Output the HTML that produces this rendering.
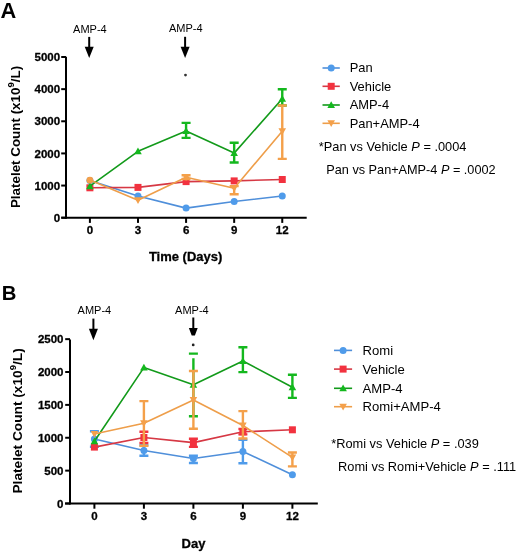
<!DOCTYPE html><html><head><meta charset="utf-8"><style>html,body{margin:0;padding:0;background:#fff;}svg{display:block;will-change:transform;filter:blur(0.3px)}text[font-weight=bold]{stroke:#000;stroke-width:0.3px}</style></head><body>
<svg width="520" height="553" viewBox="0 0 520 553" font-family='"Liberation Sans", sans-serif' fill="#000">
<text x="0.6" y="17.9" font-size="21.8" font-weight="bold" style="stroke:none">A</text>
<text x="89.9" y="32.6" font-size="11" text-anchor="middle">AMP-4</text><line x1="89.2" y1="36.9" x2="89.2" y2="47.7" stroke="#000" stroke-width="2"/><path d="M84.7 46.7H93.7L89.2 58Z" fill="#000"/>
<text x="185.7" y="32.0" font-size="11" text-anchor="middle">AMP-4</text><line x1="185.1" y1="36.8" x2="185.1" y2="47.8" stroke="#000" stroke-width="2"/><path d="M180.6 46.8H189.6L185.1 58Z" fill="#000"/>
<circle cx="185.5" cy="75.1" r="1.4" fill="#333"/>
<line x1="66" y1="56.8" x2="66" y2="218.7" stroke="#000" stroke-width="2"/>
<line x1="61.3" y1="217.7" x2="306.7" y2="217.7" stroke="#000" stroke-width="2"/>
<line x1="61.2" y1="217.7" x2="66" y2="217.7" stroke="#000" stroke-width="2"/>
<text x="60.1" y="221.8" font-size="11.5" font-weight="bold" text-anchor="end">0</text>
<line x1="61.2" y1="185.56" x2="66" y2="185.56" stroke="#000" stroke-width="2"/>
<text x="60.1" y="189.66" font-size="11.5" font-weight="bold" text-anchor="end">1000</text>
<line x1="61.2" y1="153.42" x2="66" y2="153.42" stroke="#000" stroke-width="2"/>
<text x="60.1" y="157.52" font-size="11.5" font-weight="bold" text-anchor="end">2000</text>
<line x1="61.2" y1="121.28" x2="66" y2="121.28" stroke="#000" stroke-width="2"/>
<text x="60.1" y="125.38" font-size="11.5" font-weight="bold" text-anchor="end">3000</text>
<line x1="61.2" y1="89.14" x2="66" y2="89.14" stroke="#000" stroke-width="2"/>
<text x="60.1" y="93.24" font-size="11.5" font-weight="bold" text-anchor="end">4000</text>
<line x1="61.2" y1="57.0" x2="66" y2="57.0" stroke="#000" stroke-width="2"/>
<text x="60.1" y="61.1" font-size="11.5" font-weight="bold" text-anchor="end">5000</text>
<line x1="89.9" y1="217.7" x2="89.9" y2="222.9" stroke="#000" stroke-width="2"/>
<text x="89.9" y="234.0" font-size="11.5" font-weight="bold" text-anchor="middle">0</text>
<line x1="137.99" y1="217.7" x2="137.99" y2="222.9" stroke="#000" stroke-width="2"/>
<text x="137.99" y="234.0" font-size="11.5" font-weight="bold" text-anchor="middle">3</text>
<line x1="186.08" y1="217.7" x2="186.08" y2="222.9" stroke="#000" stroke-width="2"/>
<text x="186.08" y="234.0" font-size="11.5" font-weight="bold" text-anchor="middle">6</text>
<line x1="234.17" y1="217.7" x2="234.17" y2="222.9" stroke="#000" stroke-width="2"/>
<text x="234.17" y="234.0" font-size="11.5" font-weight="bold" text-anchor="middle">9</text>
<line x1="282.26" y1="217.7" x2="282.26" y2="222.9" stroke="#000" stroke-width="2"/>
<text x="282.26" y="234.0" font-size="11.5" font-weight="bold" text-anchor="middle">12</text>
<text transform="translate(19.9,137) rotate(-90)" x="0" y="0" font-size="13.4" font-weight="bold" text-anchor="middle" style="stroke:none">Platelet Count (x10<tspan font-size="9.5" dy="-6.3">9</tspan><tspan dy="6.3">/L)</tspan></text>
<text x="185.6" y="261.3" font-size="13" font-weight="bold" text-anchor="middle" transform="translate(0,261.3) scale(1,1.05) translate(0,-261.3)">Time (Days)</text>
<polyline points="89.9,180.6 137.99,196 186.08,208.1 234.17,201.5 282.26,196" fill="none" stroke="#4F8FDA" stroke-width="1.6" stroke-linejoin="round"/>
<circle cx="89.9" cy="180.6" r="3.5" fill="#4F9BEA"/>
<circle cx="137.99" cy="196" r="3.5" fill="#4F9BEA"/>
<circle cx="186.08" cy="208.1" r="3.5" fill="#4F9BEA"/>
<circle cx="234.17" cy="201.5" r="3.5" fill="#4F9BEA"/>
<circle cx="282.26" cy="196" r="3.5" fill="#4F9BEA"/>
<polyline points="89.9,187.8 137.99,187.4 186.08,181.6 234.17,180.9 282.26,179.5" fill="none" stroke="#D63844" stroke-width="1.6" stroke-linejoin="round"/>
<rect x="86.4" y="184.3" width="7" height="7" fill="#F2323F"/>
<rect x="134.49" y="183.9" width="7" height="7" fill="#F2323F"/>
<rect x="182.58" y="178.1" width="7" height="7" fill="#F2323F"/>
<rect x="230.67" y="177.4" width="7" height="7" fill="#F2323F"/>
<rect x="278.76" y="176.0" width="7" height="7" fill="#F2323F"/>
<polyline points="89.9,186.2 137.99,151.3 186.08,130.9 234.17,153.1 282.26,98.7" fill="none" stroke="#129A1A" stroke-width="1.6" stroke-linejoin="round"/>
<path d="M186.08 122.9V137.9M181.58 122.9H190.58M181.58 137.9H190.58" stroke="#14B81E" stroke-width="2.4" fill="none"/>
<path d="M234.17 142.7V162.5M229.67 142.7H238.67M229.67 162.5H238.67" stroke="#14B81E" stroke-width="2.4" fill="none"/>
<path d="M282.26 89.3V105.5M277.76 89.3H286.76M277.76 105.5H286.76" stroke="#14B81E" stroke-width="2.4" fill="none"/>
<path d="M89.9 182.4L93.7 189.2L86.1 189.2Z" fill="#14B81E"/>
<path d="M137.99 147.5L141.79 154.3L134.19 154.3Z" fill="#14B81E"/>
<path d="M186.08 127.1L189.88 133.9L182.28 133.9Z" fill="#14B81E"/>
<path d="M234.17 149.3L237.97 156.1L230.37 156.1Z" fill="#14B81E"/>
<path d="M282.26 94.9L286.06 101.7L278.46 101.7Z" fill="#14B81E"/>
<polyline points="89.9,180 137.99,200.3 186.08,177.2 234.17,188.2 282.26,131.2" fill="none" stroke="#EE9E4A" stroke-width="1.6" stroke-linejoin="round"/>
<path d="M186.08 175.3V179M181.58 175.3H190.58M181.58 179H190.58" stroke="#F4A04A" stroke-width="2.4" fill="none"/>
<path d="M234.17 186.1V194.2M229.67 186.1H238.67M229.67 194.2H238.67" stroke="#F4A04A" stroke-width="2.4" fill="none"/>
<path d="M282.26 105.5V158.9M277.76 105.5H286.76M277.76 158.9H286.76" stroke="#F4A04A" stroke-width="2.4" fill="none"/>
<path d="M137.99 204.1L141.79 197.3L134.19 197.3Z" fill="#F4A04A"/>
<path d="M186.08 181.0L189.88 174.2L182.28 174.2Z" fill="#F4A04A"/>
<path d="M234.17 192.0L237.97 185.2L230.37 185.2Z" fill="#F4A04A"/>
<path d="M282.26 135.0L286.06 128.2L278.46 128.2Z" fill="#F4A04A"/>
<circle cx="89.9" cy="180.2" r="3.4" fill="#F4A04A"/>
<line x1="322.5" y1="68" x2="339.8" y2="68" stroke="#4F8FDA" stroke-width="1.6"/>
<circle cx="331.2" cy="68" r="3.5" fill="#4F9BEA"/>
<text x="349.7" y="72.4" font-size="12.9">Pan</text>
<line x1="322.5" y1="86.3" x2="339.8" y2="86.3" stroke="#D63844" stroke-width="1.6"/>
<rect x="327.7" y="82.8" width="7" height="7" fill="#F2323F"/>
<text x="349.7" y="90.7" font-size="12.9">Vehicle</text>
<line x1="322.5" y1="105" x2="339.8" y2="105" stroke="#129A1A" stroke-width="1.6"/>
<path d="M331.2 101.2L335.0 108L327.4 108Z" fill="#14B81E"/>
<text x="349.7" y="109.4" font-size="12.9">AMP-4</text>
<line x1="322.5" y1="123.3" x2="339.8" y2="123.3" stroke="#EE9E4A" stroke-width="1.6"/>
<path d="M331.2 127.1L335.0 120.3L327.4 120.3Z" fill="#F4A04A"/>
<text x="349.7" y="127.7" font-size="12.9">Pan+AMP-4</text>
<text x="318.8" y="150.6" font-size="12.8">*Pan vs Vehicle <tspan font-style="italic">P</tspan> = .0004</text>
<text x="326.3" y="173.8" font-size="12.7">Pan vs Pan+AMP-4 <tspan font-style="italic">P</tspan> = .0002</text>
<text x="1.8" y="299.9" font-size="20.3" font-weight="bold" style="stroke:none">B</text>
<text x="94.4" y="314" font-size="11" text-anchor="middle">AMP-4</text><line x1="93.4" y1="318.6" x2="93.4" y2="329.7" stroke="#000" stroke-width="2"/><path d="M88.9 328.7H97.9L93.4 340.2Z" fill="#000"/>
<text x="191.9" y="314" font-size="11" text-anchor="middle">AMP-4</text><line x1="193.3" y1="317.5" x2="193.3" y2="329.0" stroke="#000" stroke-width="2"/><path d="M188.9 328.0H197.7L194.9 335.6H191.7Z" fill="#000"/>
<circle cx="193.2" cy="344.9" r="1.4" fill="#222"/>
<line x1="70" y1="339.4" x2="70" y2="504.5" stroke="#000" stroke-width="2"/>
<line x1="65" y1="503.5" x2="317.8" y2="503.5" stroke="#000" stroke-width="2"/>
<line x1="65.2" y1="503.5" x2="70" y2="503.5" stroke="#000" stroke-width="2"/>
<text x="63.5" y="507.6" font-size="11.5" font-weight="bold" text-anchor="end">0</text>
<line x1="65.2" y1="470.63" x2="70" y2="470.63" stroke="#000" stroke-width="2"/>
<text x="63.5" y="474.73" font-size="11.5" font-weight="bold" text-anchor="end">500</text>
<line x1="65.2" y1="437.76" x2="70" y2="437.76" stroke="#000" stroke-width="2"/>
<text x="63.5" y="441.86" font-size="11.5" font-weight="bold" text-anchor="end">1000</text>
<line x1="65.2" y1="404.89" x2="70" y2="404.89" stroke="#000" stroke-width="2"/>
<text x="63.5" y="408.99" font-size="11.5" font-weight="bold" text-anchor="end">1500</text>
<line x1="65.2" y1="372.02" x2="70" y2="372.02" stroke="#000" stroke-width="2"/>
<text x="63.5" y="376.12" font-size="11.5" font-weight="bold" text-anchor="end">2000</text>
<line x1="65.2" y1="339.15" x2="70" y2="339.15" stroke="#000" stroke-width="2"/>
<text x="63.5" y="343.25" font-size="11.5" font-weight="bold" text-anchor="end">2500</text>
<line x1="94.4" y1="503.5" x2="94.4" y2="508.7" stroke="#000" stroke-width="2"/>
<text x="94.4" y="520.2" font-size="11.5" font-weight="bold" text-anchor="middle">0</text>
<line x1="143.9" y1="503.5" x2="143.9" y2="508.7" stroke="#000" stroke-width="2"/>
<text x="143.9" y="520.2" font-size="11.5" font-weight="bold" text-anchor="middle">3</text>
<line x1="193.4" y1="503.5" x2="193.4" y2="508.7" stroke="#000" stroke-width="2"/>
<text x="193.4" y="520.2" font-size="11.5" font-weight="bold" text-anchor="middle">6</text>
<line x1="242.9" y1="503.5" x2="242.9" y2="508.7" stroke="#000" stroke-width="2"/>
<text x="242.9" y="520.2" font-size="11.5" font-weight="bold" text-anchor="middle">9</text>
<line x1="292.4" y1="503.5" x2="292.4" y2="508.7" stroke="#000" stroke-width="2"/>
<text x="292.4" y="520.2" font-size="11.5" font-weight="bold" text-anchor="middle">12</text>
<text transform="translate(22.0,420.9) rotate(-90)" x="0" y="0" font-size="13.7" font-weight="bold" text-anchor="middle" style="stroke:none">Platelet Count (x10<tspan font-size="9.5" dy="-6.3">9</tspan><tspan dy="6.3">/L)</tspan></text>
<text x="193.5" y="548.1" font-size="13" font-weight="bold" text-anchor="middle">Day</text>
<polyline points="94.4,439 143.9,450.5 193.4,458.5 242.9,451.5 292.4,474.8" fill="none" stroke="#4F8FDA" stroke-width="1.6" stroke-linejoin="round"/>
<path d="M94.4 431.3V446.7M89.9 431.3H98.9M89.9 446.7H98.9" stroke="#4F9BEA" stroke-width="2.4" fill="none"/>
<path d="M143.9 445.2V455.8M139.4 445.2H148.4M139.4 455.8H148.4" stroke="#4F9BEA" stroke-width="2.4" fill="none"/>
<path d="M193.4 455.8V463M188.9 455.8H197.9M188.9 463H197.9" stroke="#4F9BEA" stroke-width="2.4" fill="none"/>
<path d="M242.9 439.7V463.2M238.4 439.7H247.4M238.4 463.2H247.4" stroke="#4F9BEA" stroke-width="2.4" fill="none"/>
<circle cx="94.4" cy="439" r="3.5" fill="#4F9BEA"/>
<circle cx="143.9" cy="450.5" r="3.5" fill="#4F9BEA"/>
<circle cx="193.4" cy="458.5" r="3.5" fill="#4F9BEA"/>
<circle cx="242.9" cy="451.5" r="3.5" fill="#4F9BEA"/>
<circle cx="292.4" cy="474.8" r="3.5" fill="#4F9BEA"/>
<polyline points="94.4,447.1 143.9,437.5 193.4,442.6 242.9,431.8 292.4,429.8" fill="none" stroke="#D63844" stroke-width="1.6" stroke-linejoin="round"/>
<path d="M143.9 431.8V442.9M139.4 431.8H148.4M139.4 442.9H148.4" stroke="#F2323F" stroke-width="2.4" fill="none"/>
<path d="M193.4 438.8V446.9M188.9 438.8H197.9M188.9 446.9H197.9" stroke="#F2323F" stroke-width="2.4" fill="none"/>
<path d="M242.9 429V434.4M238.4 429H247.4M238.4 434.4H247.4" stroke="#F2323F" stroke-width="2.4" fill="none"/>
<rect x="90.9" y="443.6" width="7" height="7" fill="#F2323F"/>
<rect x="140.4" y="434.0" width="7" height="7" fill="#F2323F"/>
<rect x="189.9" y="439.1" width="7" height="7" fill="#F2323F"/>
<rect x="239.4" y="428.3" width="7" height="7" fill="#F2323F"/>
<rect x="288.9" y="426.3" width="7" height="7" fill="#F2323F"/>
<polyline points="94.4,441.2 143.9,367.6 193.4,384.8 242.9,361 292.4,387.3" fill="none" stroke="#129A1A" stroke-width="1.6" stroke-linejoin="round"/>
<path d="M193.4 358.2V416.2M188.9 353.6H197.9M188.9 416.2H197.9" stroke="#14B81E" stroke-width="2.4" fill="none"/>
<path d="M242.9 347.3V372.1M238.4 347.3H247.4M238.4 372.1H247.4" stroke="#14B81E" stroke-width="2.4" fill="none"/>
<path d="M292.4 374.8V397.9M287.9 374.8H296.9M287.9 397.9H296.9" stroke="#14B81E" stroke-width="2.4" fill="none"/>
<path d="M94.4 437.4L98.2 444.2L90.6 444.2Z" fill="#14B81E"/>
<path d="M143.9 363.8L147.7 370.6L140.1 370.6Z" fill="#14B81E"/>
<path d="M193.4 381.0L197.2 387.8L189.6 387.8Z" fill="#14B81E"/>
<path d="M242.9 357.2L246.7 364L239.1 364Z" fill="#14B81E"/>
<path d="M292.4 383.5L296.2 390.3L288.6 390.3Z" fill="#14B81E"/>
<polyline points="94.4,434 143.9,423.2 193.4,400 242.9,425.5 292.4,457.4" fill="none" stroke="#EE9E4A" stroke-width="1.6" stroke-linejoin="round"/>
<path d="M143.9 401.1V445.7M139.4 401.1H148.4M139.4 445.7H148.4" stroke="#F4A04A" stroke-width="2.4" fill="none"/>
<path d="M193.4 371V428.7M188.9 371H197.9M188.9 428.7H197.9" stroke="#F4A04A" stroke-width="2.4" fill="none"/>
<path d="M242.9 411.1V438.5M238.4 411.1H247.4M238.4 438.5H247.4" stroke="#F4A04A" stroke-width="2.4" fill="none"/>
<path d="M292.4 452.5V466.4M287.9 452.5H296.9M287.9 466.4H296.9" stroke="#F4A04A" stroke-width="2.4" fill="none"/>
<path d="M94.4 437.8L98.2 431L90.6 431Z" fill="#F4A04A"/>
<path d="M143.9 427.0L147.7 420.2L140.1 420.2Z" fill="#F4A04A"/>
<path d="M193.4 403.8L197.2 397L189.6 397Z" fill="#F4A04A"/>
<path d="M242.9 429.3L246.7 422.5L239.1 422.5Z" fill="#F4A04A"/>
<path d="M292.4 461.2L296.2 454.4L288.6 454.4Z" fill="#F4A04A"/>
<line x1="334" y1="350.4" x2="352.1" y2="350.4" stroke="#4F8FDA" stroke-width="1.6"/>
<circle cx="343.1" cy="350.4" r="3.5" fill="#4F9BEA"/>
<text x="362.6" y="354.8" font-size="13.1">Romi</text>
<line x1="334" y1="369.1" x2="352.1" y2="369.1" stroke="#D63844" stroke-width="1.6"/>
<rect x="339.6" y="365.6" width="7" height="7" fill="#F2323F"/>
<text x="362.6" y="373.5" font-size="13.1">Vehicle</text>
<line x1="334" y1="388.3" x2="352.1" y2="388.3" stroke="#129A1A" stroke-width="1.6"/>
<path d="M343.1 384.5L346.9 391.3L339.3 391.3Z" fill="#14B81E"/>
<text x="362.6" y="392.7" font-size="13.1">AMP-4</text>
<line x1="334" y1="406.7" x2="352.1" y2="406.7" stroke="#EE9E4A" stroke-width="1.6"/>
<path d="M343.1 410.5L346.9 403.7L339.3 403.7Z" fill="#F4A04A"/>
<text x="362.6" y="411.1" font-size="13.1">Romi+AMP-4</text>
<text x="331.2" y="447.7" font-size="12.8">*Romi vs Vehicle <tspan font-style="italic">P</tspan> = .039</text>
<text x="338.1" y="470.8" font-size="12.8">Romi vs Romi+Vehicle <tspan font-style="italic">P</tspan> = .111</text>
</svg></body></html>
